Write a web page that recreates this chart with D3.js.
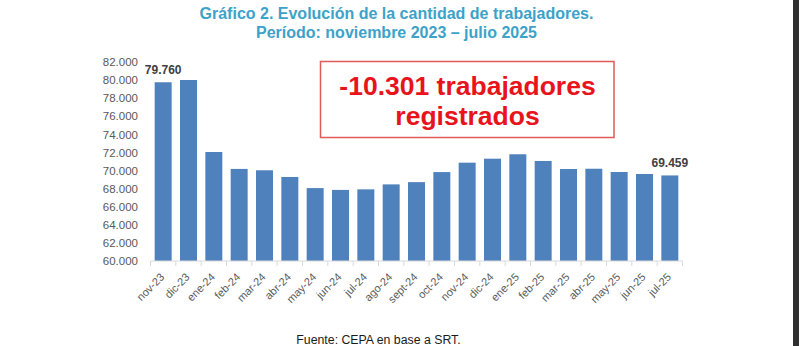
<!DOCTYPE html>
<html><head><meta charset="utf-8">
<script src="https://cdn.jsdelivr.net/npm/d3@7"></script>
<style>html,body{margin:0;padding:0;background:#fff;}svg{display:block;}</style>
</head><body>
<svg id="c" width="799" height="346"></svg>
<script>
const months = ["nov-23","dic-23","ene-24","feb-24","mar-24","abr-24","may-24","jun-24","jul-24","ago-24","sept-24","oct-24","nov-24","dic-24","ene-25","feb-25","mar-25","abr-25","may-25","jun-25","jul-25"];
const workers = [79760,80010,72050,70180,70030,69290,68060,67860,67920,68470,68720,69830,70870,71310,71800,71060,70170,70200,69840,69620,69459];
const labeledIdx = [0,20];
const yTicks = [60000,62000,64000,66000,68000,70000,72000,74000,76000,78000,80000,82000];
const titleLines = ["Gráfico 2. Evolución de la cantidad de trabajadores.","Período: noviembre 2023 – julio 2025"];
const calloutLines = ["-10.301 trabajadores","registrados"];
const source = "Fuente: CEPA en base a SRT.";

const svg = d3.select("#c");
const font = "'Liberation Sans', Arial, sans-serif";
const loc = d3.formatLocale({decimal:",", thousands:".", grouping:[3], currency:["$",""]});
const fmt = loc.format(",d");

const x = d3.scaleBand().domain(months).range([150.5, 682.5]).paddingInner(0.33).paddingOuter(0.165);
const y = d3.scaleLinear().domain([60000, 82000]).range([261, 62]);

// right dark strip
svg.append("rect").attr("x",793).attr("y",0).attr("width",6).attr("height",346).attr("fill","#303030");

// title
svg.append("g").selectAll("text").data(titleLines).join("text")
  .attr("x",396.5).attr("y",(d,i)=>18.5+i*19)
  .attr("text-anchor","middle").attr("font-family",font).attr("font-weight","bold")
  .attr("font-size",16).attr("fill","#3da2c8").text(d=>d);

// y axis labels
const yAxis = d3.axisLeft(y).tickValues(yTicks).tickFormat(fmt).tickSize(0).tickPadding(0);
const gy = svg.append("g").attr("transform","translate(138,0)").call(yAxis);
gy.select(".domain").remove();
gy.selectAll("text").attr("font-family",font).attr("font-size",11.5).attr("fill","#595959");

// bars
svg.append("g").selectAll("rect").data(months).join("rect")
  .attr("x",d=>x(d)).attr("width",x.bandwidth())
  .attr("y",(d,i)=>y(workers[i])).attr("height",(d,i)=>y(60000)-y(workers[i]))
  .attr("fill","#4f81bd");

// x axis
const gx = svg.append("g").attr("transform",`translate(0,${y(60000)})`);
gx.append("line").attr("x1",150.5).attr("x2",682.5).attr("y1",0).attr("y2",0).attr("stroke","#d9d9d9").attr("stroke-width",1);
const edges = months.map(m=>x(m)-x.step()*x.paddingInner()/2).concat([682.5]);
gx.selectAll("line.tk").data(edges).join("line").attr("class","tk")
  .attr("x1",d=>d).attr("x2",d=>d).attr("y1",0).attr("y2",5).attr("stroke","#d9d9d9");
gx.selectAll("text").data(months).join("text")
  .attr("transform",d=>`translate(${x(d)+x.bandwidth()/2-3.5},${11.3}) rotate(-45)`)
  .attr("text-anchor","end").attr("dy","0.7em")
  .attr("font-family",font).attr("font-size",11).attr("fill","#595959").text(d=>d);

// data labels
svg.append("g").selectAll("text").data(labeledIdx).join("text")
  .attr("x",i=>x(months[i])+x.bandwidth()/2).attr("y",i=>y(workers[i])-8)
  .attr("text-anchor","middle").attr("font-family",font).attr("font-weight","bold")
  .attr("font-size",12).attr("fill","#404040").text(i=>fmt(workers[i]));

// callout box
svg.append("rect").attr("x",320.5).attr("y",61.5).attr("width",293.5).attr("height",76)
  .attr("fill","#fff").attr("stroke","#e05a5a").attr("stroke-width",1.5);
svg.append("g").selectAll("text").data(calloutLines).join("text")
  .attr("x",467.5).attr("y",(d,i)=>95+i*29.5)
  .attr("text-anchor","middle").attr("font-family",font).attr("font-weight","bold")
  .attr("font-size",26.5).attr("fill","#e8131b").text(d=>d);

// source
svg.append("text").attr("x",378.5).attr("y",343.5).attr("text-anchor","middle")
  .attr("font-family",font).attr("font-size",12.3).attr("fill","#1a1a1a").text(source);
</script>
</body></html>
